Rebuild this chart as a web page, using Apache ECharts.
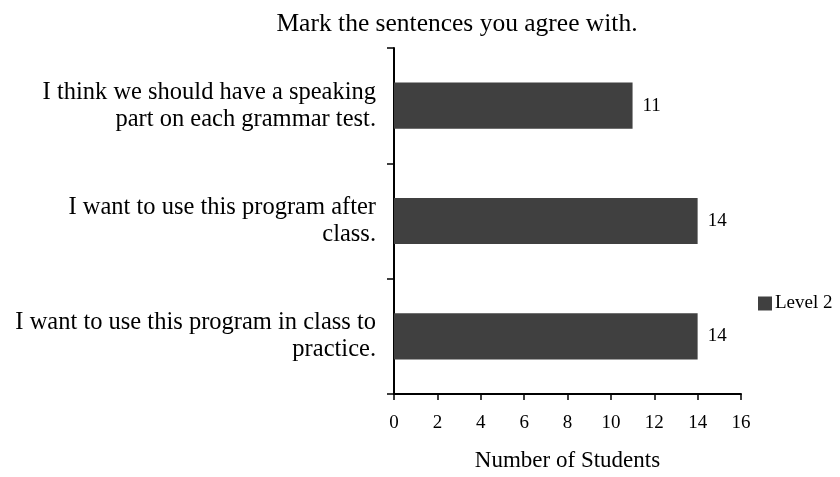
<!DOCTYPE html>
<html>
<head>
<meta charset="utf-8">
<script src="https://cdn.jsdelivr.net/npm/echarts@6/dist/echarts.min.js"></script>
<style>
  html, body { margin: 0; padding: 0; background: #fff; }
  #chart { width: 840px; height: 477px; }
</style>
</head>
<body>
<div id="chart"></div>
<script>
// data, top to bottom
const categories = [
  "I think we should have a speaking\npart on each grammar test.",
  "I want to use this program after\nclass.",
  "I want to use this program in class to\npractice."
];
const level2 = [11, 14, 14];
const xTicks = [0, 16, 2]; // min, max, interval

const chart = echarts.init(document.getElementById("chart"));
const serif = "Liberation Serif";

const option = {
  backgroundColor: "#fff",
  animation: false,
  textStyle: { fontFamily: serif, color: "#000" },
  title: {
    text: "Mark the sentences you agree with.",
    left: 452,
    textAlign: "center",
    top: 6,
    textStyle: { fontFamily: serif, fontSize: 25.5, fontWeight: "normal", color: "#000" },
  },
  legend: {
    data: ["Level 2"],
    left: 753,
    top: 289,
    itemWidth: 14,
    itemHeight: 14,
    itemGap: 4,
    icon: "rect",
    textStyle: { fontFamily: serif, fontSize: 19, color: "#000", padding: [0, 0, 0, -2] },
  },
  grid: { left: 394, right: 99, top: 48, bottom: 83 },
  xAxis: {
    type: "value",
    min: xTicks[0],
    max: xTicks[1],
    interval: xTicks[2],
    name: "Number of Students",
    nameLocation: "middle",
    nameGap: 55,
    nameTextStyle: { fontFamily: serif, fontSize: 23, color: "#000" },
    axisLine: { show: true, lineStyle: { color: "#000", width: 2 } },
    axisTick: { show: true, length: 6, lineStyle: { color: "#000", width: 1.5 } },
    axisLabel: { fontFamily: serif, fontSize: 19, color: "#000", margin: 20 },
    splitLine: { show: false },
  },
  yAxis: {
    type: "category",
    data: categories,
    inverse: true,
    axisLine: { show: true, lineStyle: { color: "#000", width: 2 } },
    axisTick: { show: true, length: 7, lineStyle: { color: "#000", width: 1.5 } },
    axisLabel: {
      fontFamily: serif,
      fontSize: 24.5,
      color: "#000",
      margin: 18,
      lineHeight: 27,
      align: "right",
    },
  },
  series: [
    {
      name: "Level 2",
      type: "bar",
      data: level2,
      barWidth: "40%",
      itemStyle: { color: "#404040" },
      label: {
        show: true,
        position: "right",
        distance: 10,
        fontFamily: serif,
        fontSize: 19,
        color: "#000",
      },
    },
  ],
};

chart.setOption(option);
</script>
</body>
</html>
